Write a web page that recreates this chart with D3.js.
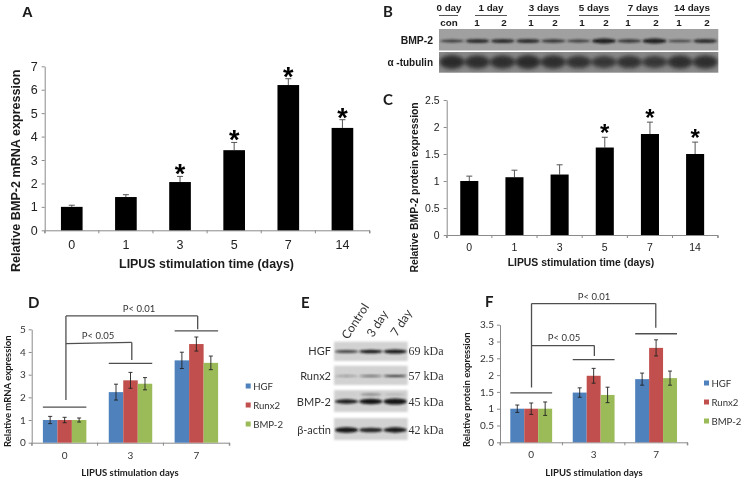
<!DOCTYPE html>
<html><head><meta charset="utf-8">
<script src="https://cdn.jsdelivr.net/npm/d3@7/dist/d3.min.js"></script>
<style>html,body{margin:0;padding:0;background:#fff}svg{display:block}text{fill:#1a1a1a}</style>
</head><body><svg id="c" width="743" height="481"></svg>
<script>
const daysSix=["0","1","3","5","7","14"];
const mrnaValues=[1,1.42,2.06,3.42,6.2,4.37];
const mrnaTops=[1.07,1.52,2.3,3.75,6.47,4.72];
const mrnaStars=[false,false,true,true,true,true];
const proteinValues=[1,1.07,1.12,1.62,1.87,1.5];
const proteinTops=[1.09,1.2,1.3,1.81,2.09,1.72];
const proteinStars=[false,false,false,true,true,true];
const mrnaTicks=[0,1,2,3,4,5,6,7];
const proteinTicks=[0,0.5,1,1.5,2,2.5];
const daysThree=["0","3","7"];
const seriesNames=["HGF","Runx2","BMP-2"];
const seriesColors=["#4f81bd","#c0504d","#9bbb59"];
const dHGF=[1,2.23,3.63], dHGFerr=[.16,.35,.36];
const dRunx2=[1,2.75,4.35], dRunx2err=[.12,.35,.31];
const dBMP2=[1,2.6,3.52], dBMP2err=[.09,.27,.3];
const fHGF=[1,1.48,1.88], fHGFerr=[.11,.14,.18];
const fRunx2=[1,1.98,2.81], fRunx2err=[.17,.22,.24];
const fBMP2=[1,1.41,1.91], fBMP2err=[.2,.23,.21];
const dTicks=[0,1,2,3,4,5];
const fTicks=[0,.5,1,1.5,2,2.5,3,3.5];
// blot lane strengths: con, then lanes 1 and 2 of days 1, 3, 5, 7, 14
const bmpBand=[.6,.75,.75,.75,.65,.6,.95,.65,.95,.5,.75];
const tubBand=[1,.95,.95,1,.95,.9,.85,.9,.85,.95,.95];
const eLanes=["Control","3 day","7 day"];
const eHGF=[.65,.85,1], eRunx2=[.35,.45,.65], eBMP2=[.8,1,1.1], eBMP2Upper=[.1,.7,.4], eActin=[.85,.7,.8];

const svg=d3.select("#c");
const defs=svg.append("defs");
[["soft",.45],["b1",1.1],["b2",2.2],["edge",.8]].forEach(([id,s])=>
  defs.append("filter").attr("id",id).attr("x","-30%").attr("y","-60%").attr("width","160%").attr("height","220%")
   .append("feGaussianBlur").attr("stdDeviation",s));
const root=svg.append("g").attr("filter","url(#soft)");
const ARIAL="'Liberation Sans',Arial,sans-serif", CAL="Lato,'Open Sans',sans-serif", SERIF="'Liberation Serif',serif";
function txt(x,y,s,size,o={}){
  const t=root.append("text").attr("x",x).attr("y",y).text(s).attr("font-size",size)
    .attr("font-family",o.f||ARIAL).attr("font-weight",o.w||"normal").attr("text-anchor",o.a||"start");
  if(o.r!=null)t.attr("transform",`rotate(${o.r} ${x} ${y})`);
  if(o.c)t.style("fill",o.c);
  return t;
}
function axes(x,y,ticks,o){
  const gx=root.append("g").attr("transform",`translate(0,${y(0)})`)
    .call(d3.axisBottom(x).tickSize(o.tick).tickPadding(o.padX).tickSizeOuter(o.tick));
  const gy=root.append("g").attr("transform",`translate(${x.range()[0]},0)`)
    .call(d3.axisLeft(y).tickValues(ticks).tickFormat(d=>d).tickSize(o.tick).tickPadding(o.padY).tickSizeOuter(0));
  [gx,gy].forEach(g=>{g.selectAll("path,line").attr("stroke",o.axis||"#8a8a8a");
    g.selectAll("text").attr("font-family",o.font).attr("font-size",o.size).style("fill",o.tc||"#222");});
  gx.selectAll(".tick line").remove();
  const st=x.step();
  gx.selectAll("line.e").data(d3.range(x.domain().length+1)).join("line").attr("class","e")
    .attr("x1",i=>x.range()[0]+i*st).attr("x2",i=>x.range()[0]+i*st).attr("y1",0).attr("y2",o.tick).attr("stroke",o.axis||"#8a8a8a");
}
function blackPanel(cats,vals,tops,stars,ticks,o){
  const x=d3.scaleBand().domain(cats).range(o.xr).paddingInner(o.pad).paddingOuter(o.pad/2);
  const y=d3.scaleLinear().domain([0,ticks[ticks.length-1]]).range(o.yr);
  axes(x,y,ticks,{tick:3,padX:o.padX,padY:o.padY,font:ARIAL,size:o.size});
  const c=d=>x(d)+x.bandwidth()/2;
  root.selectAll(null).data(cats).join("line").attr("x1",c).attr("x2",c)
    .attr("y1",(d,i)=>y(vals[i])).attr("y2",(d,i)=>y(tops[i])).attr("stroke","#555");
  root.selectAll(null).data(cats).join("line").attr("x1",d=>c(d)-3).attr("x2",d=>c(d)+3)
    .attr("y1",(d,i)=>y(tops[i])).attr("y2",(d,i)=>y(tops[i])).attr("stroke","#555");
  root.selectAll(null).data(cats).join("rect").attr("x",d=>x(d)).attr("width",x.bandwidth())
    .attr("y",(d,i)=>y(vals[i])).attr("height",(d,i)=>y(0)-y(vals[i])).attr("fill","#000");
  cats.forEach((d,i)=>{ if(stars[i]) txt(c(d),y(tops[i])+o.starDy,"*",o.star,{a:"middle",w:"bold"}).style("fill","#000"); });
}
function groupedPanel(series,errs,ticks,o){
  const x=d3.scaleBand().domain(daysThree).range(o.xr).paddingInner(o.pad).paddingOuter(o.pad/2);
  const x1=d3.scaleBand().domain(seriesNames).range([0,x.bandwidth()]);
  const y=d3.scaleLinear().domain([0,ticks[ticks.length-1]]).range(o.yr);
  axes(x,y,ticks,{tick:3,padX:o.padX,padY:o.padY,font:CAL,size:10,tc:"#333"});
  seriesNames.forEach((n,s)=>{
    const g=root.append("g").attr("fill",seriesColors[s]);
    g.selectAll("rect").data(daysThree).join("rect").attr("x",d=>x(d)+x1(n)).attr("width",x1.bandwidth())
      .attr("y",(d,i)=>y(series[s][i])).attr("height",(d,i)=>y(0)-y(series[s][i]));
    const cx=d=>x(d)+x1(n)+x1.bandwidth()/2;
    const e=root.append("g").attr("stroke","#222").attr("stroke-width",.9);
    e.selectAll("line.v").data(daysThree).join("line").attr("class","v").attr("x1",cx).attr("x2",cx)
      .attr("y1",(d,i)=>y(series[s][i]-errs[s][i])).attr("y2",(d,i)=>y(series[s][i]+errs[s][i]));
    [-1,1].forEach(k=>e.selectAll("line.c"+(k+1)).data(daysThree).join("line").attr("class","c"+(k+1))
      .attr("x1",d=>cx(d)-2).attr("x2",d=>cx(d)+2)
      .attr("y1",(d,i)=>y(series[s][i]+k*errs[s][i])).attr("y2",(d,i)=>y(series[s][i]+k*errs[s][i])));
  });
  const c=d=>x(d)+x.bandwidth()/2;
  const st="#505050";
  const ln=(x1_,y1_,x2_,y2_)=>root.append("line").attr("x1",x1_).attr("y1",y1_).attr("x2",x2_).attr("y2",y2_).attr("stroke",st).attr("stroke-width",1.3);
  daysThree.forEach((d,i)=>ln(x(d),y(o.caps[i]),x(d)+x.bandwidth(),y(o.caps[i])));
  const [a,b,e]=daysThree.map(c);
  ln(a+o.dx0,y(o.stem),a+o.dx0,y(o.topB));
  ln(a+o.dx0,y(o.topB),e+o.dx2,y(o.topB));
  ln(e+o.dx2,y(o.topB),e+o.dx2,y(o.endB));
  ln(a+o.dx0,y(o.midA),b+o.dx1,y(o.midB));
  ln(b+o.dx1,y(o.midB),b+o.dx1,y(o.endA));
  txt(o.p05[0],o.p05[1],"P< 0.05",9.5,{f:CAL,a:"middle",c:"#333"});
  txt(o.p01[0],o.p01[1],"P< 0.01",9.5,{f:CAL,a:"middle",c:"#333"});
  seriesNames.forEach((n,s)=>{
    root.append("rect").attr("x",o.lx).attr("y",o.ly[s]-2.5).attr("width",5).attr("height",5).attr("fill",seriesColors[s]);
    txt(o.lx+7.5,o.ly[s]+3.5,n,9.6,{f:CAL,c:"#333"});
  });
}
function blot(xr,yr,bg,bandsVals,o){
  const n=bandsVals.length;
  const g=root.append("g");
  g.append("rect").attr("x",xr[0]).attr("y",yr[0]).attr("width",xr[1]-xr[0]).attr("height",yr[1]-yr[0]).attr("fill",bg)
    .attr("filter",o.soft?"url(#edge)":null);
  const cl=`c${Math.round(xr[0])}_${Math.round(yr[0])}_${Math.round(o.cy)}`;
  defs.append("clipPath").attr("id",cl).append("rect").attr("x",xr[0]).attr("y",yr[0]).attr("width",xr[1]-xr[0]).attr("height",yr[1]-yr[0]);
  const inner=g.append("g").attr("clip-path",`url(#${cl})`);
  const x=d3.scaleBand().domain(d3.range(n)).range(xr).padding(o.gap);
  inner.append("g").attr("filter",`url(#${o.blur})`).selectAll("ellipse").data(bandsVals).join("ellipse")
    .attr("cx",(d,i)=>x(i)+x.bandwidth()/2).attr("cy",o.cy).attr("rx",x.bandwidth()/2)
    .attr("ry",d=>o.h*d).attr("fill",o.color).attr("opacity",d=>Math.min(1,(o.base??.5)+d*.6));
}

// A
txt(22,17,"A",15,{w:"bold"});
blackPanel(daysSix,mrnaValues,mrnaTops,mrnaStars,mrnaTicks,{xr:[44.7,369.5],yr:[230.3,66.3],pad:.6,padX:7,padY:4,size:12.5,star:27,starDy:7});
txt(20,272,"Relative BMP-2 mRNA expression",12.6,{w:"bold",r:-90});
txt(206.5,268,"LIPUS stimulation time (days)",12.4,{w:"bold",a:"middle"});

// C
txt(383,105,"C",15,{f:CAL,w:"bold"});
blackPanel(daysSix,proteinValues,proteinTops,proteinStars,proteinTicks,{xr:[446.7,717.7],yr:[235,100],pad:.6,padX:6,padY:4,size:10.5,star:24,starDy:4});
txt(418,272.5,"Relative BMP-2 protein expression",10.35,{w:"bold",r:-90});
txt(581,266,"LIPUS stimulation time (days)",10.4,{w:"bold",a:"middle"});

// B
txt(383,17,"B",15,{f:CAL,w:"bold"});
blot([439,718.3],[29,50.5],"#a0a0a0",bmpBand,{cy:41,h:2.6,gap:.04,blur:"b1",color:"#1a1a1a",base:.4});
blot([439,718.3],[52,72.7],"#8a8a8a",tubBand,{cy:62,h:7,gap:.02,blur:"b2",color:"#2c2c2c",base:.4});
[["0 day",449],["1 day",491],["3 days",544],["5 days",594],["7 days",643],["14 days",692]].forEach(([s,xx])=>txt(xx,11,s,9.8,{w:"bold",a:"middle"}));
[[439,458],[475,507],[528,560],[579,610],[627,659],[675,710]].forEach(([a,b])=>root.append("line").attr("x1",a).attr("x2",b).attr("y1",15.5).attr("y2",15.5).attr("stroke","#555"));
txt(449,26,"con",9.8,{w:"bold",a:"middle"});
[477,504,531,555,582,606,628,656,679,707].forEach((xx,i)=>txt(xx,26,i%2?"2":"1",9.8,{w:"bold",a:"middle"}));
txt(433,44,"BMP-2",10.4,{w:"bold",a:"end"});
txt(433,66,"α -tubulin",10,{w:"bold",a:"end"});

// D
txt(28,308,"D",15,{f:CAL,w:"bold"});
groupedPanel([dHGF,dRunx2,dBMP2],[dHGFerr,dRunx2err,dBMP2err],dTicks,{xr:[31.7,229.3],yr:[442.7,329.3],pad:.34,padX:6,padY:3,
  caps:[1.57,3.5,4.93],stem:1.88,topB:5.59,endB:5,midA:4.37,midB:4.42,endA:3.65,dx0:1.3,dx1:1.3,dx2:1.3,
  p05:[98,339],p01:[139,312],lx:245.7,ly:[386,405,424]});
txt(11,447,"Relative mRNA expression",9.5,{f:CAL,w:"bold",r:-90});
txt(130,476,"LIPUS stimulation days",9.5,{f:CAL,w:"bold",a:"middle"});

// E
txt(301,308,"E",15,{f:CAL,w:"bold"});
const er=[[341.7,361,351.5,2.1,eHGF],[365.7,385,376,1.5,eRunx2],[390,412,401.5,2.8,eBMP2],[418,440,430,3.3,eActin]];
er.forEach(([a,b,cy,h,v])=>blot([334,407.7],[a,b],"#d2d2d2",v,{cy:cy,h:h,gap:.03,blur:"b1",color:"#161616",soft:true}));
blot([334,407.7],[390,412],"none",eBMP2Upper,{cy:394.5,h:2,gap:.1,blur:"b1",color:"#555",base:.1});
[["HGF",355],["Runx2",380],["BMP-2",406],["β-actin",434]].forEach(([s,y])=>txt(331,y,s,11,{f:CAL,a:"end",c:"#333"}));
[["69 kDa",355],["57 kDa",380],["45 kDa",406],["42 kDa",434]].forEach(([s,y])=>txt(408.5,y,s,12,{f:SERIF,c:"#333"}));
eLanes.forEach((s,i)=>txt([348,373,397][i],[340,338,337][i],s,12,{f:CAL,r:-57,c:"#333"}));

// F
txt(485,307,"F",15,{f:CAL,w:"bold"});
groupedPanel([fHGF,fRunx2,fBMP2],[fHGFerr,fRunx2err,fBMP2err],fTicks,{xr:[500,687.3],yr:[442.3,324.7],pad:.33,padX:6,padY:3,
  caps:[1.47,2.46,3.23],stem:1.63,topB:4.13,endB:3.41,midA:2.88,midB:2.88,endA:2.57,dx0:.3,dx1:.7,dx2:-.3,
  p05:[564,341],p01:[594,300],lx:704,ly:[383,402,421]});
txt(470,447,"Relative protein expression",9.5,{f:CAL,w:"bold",r:-90});
txt(594,476,"LIPUS stimulation days",9.5,{f:CAL,w:"bold",a:"middle"});
</script></body></html>
